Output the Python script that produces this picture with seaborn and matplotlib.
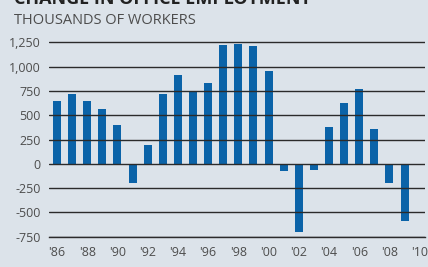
import matplotlib
matplotlib.use("Agg")
import matplotlib.pyplot as plt
import seaborn as sns
import pandas as pd

years = list(range(1986, 2010))
values = [650, 720, 650, 560, 400, -200, 190, 715, 910, 750, 835,
          1225, 1230, 1210, 960, -75, -700, -65, 375, 630, 775, 355, -195, -590]
tick_years = list(range(1986, 2011))
tick_labels = ["'%02d" % (y % 100) if y % 2 == 0 else "" for y in tick_years]
y_ticks = [-750, -500, -250, 0, 250, 500, 750, 1000, 1250]
y_labels = ["-750", "-500", "-250", "0", "250", "500", "750", "1,000", "1,250"]
title = "CHANGE IN OFFICE EMPLOYMENT"
subtitle = "THOUSANDS OF WORKERS"

BG = "#dce3ea"
BAR = "#0b63a8"
TXT = "#4d4d4d"

sns.set_theme(style="white")
plt.rcParams["font.family"] = ["Open Sans", "DejaVu Sans"]

df = pd.DataFrame({"year": years, "value": values})

fig = plt.figure(figsize=(4.28, 2.67), dpi=100, facecolor=BG)
ax = fig.add_axes([49 / 428, 1 - 236.7 / 267, (425 - 49) / 428, (236.7 - 37.5) / 267])
ax.set_facecolor(BG)

sns.barplot(data=df, x="year", y="value", native_scale=True, width=0.53,
            color=BAR, saturation=1, ax=ax, linewidth=0)

ax.set_xlim(1985.47, 2010.35)
ax.set_ylim(-750, 1300)
ax.set_xticks(tick_years)
ax.set_xticklabels(tick_labels, fontsize=9, color=TXT)
ax.set_yticks(y_ticks)
ax.set_yticklabels(y_labels, fontsize=9, color=TXT)
ax.set_xlabel("")
ax.set_ylabel("")

ax.set_axisbelow(False)
ax.yaxis.grid(True, color="#2b2b2b", linewidth=1.0)
ax.xaxis.grid(False)
for s in ["top", "right", "left"]:
    ax.spines[s].set_visible(False)
ax.spines["bottom"].set_color("#2b2b2b")
ax.spines["bottom"].set_linewidth(1.0)
ax.tick_params(axis="x", direction="out", length=4, width=1, color="#2b2b2b", pad=3)
ax.tick_params(axis="y", length=0, pad=6)

fig.text(14 / 428, 1 - 4 / 267, title, fontsize=13, fontweight="bold", color="#222222",
         ha="left", va="baseline")
fig.text(14 / 428, 1 - 24 / 267, subtitle, fontsize=10.5, color=TXT, ha="left",
         va="baseline")

fig.savefig("out.png", dpi=100, facecolor=BG)
